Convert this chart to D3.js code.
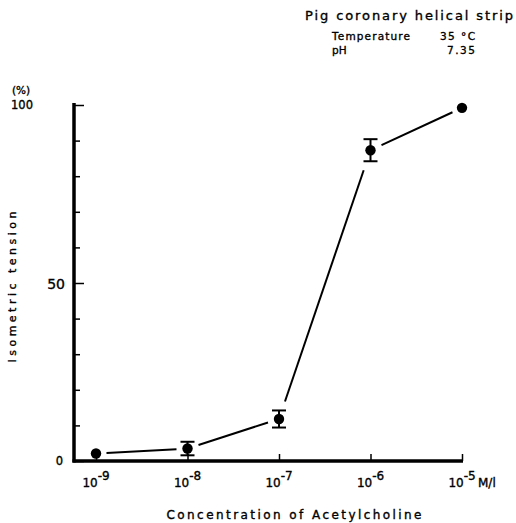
<!DOCTYPE html>
<html>
<head>
<meta charset="utf-8">
<script src="https://cdn.jsdelivr.net/npm/d3@7/dist/d3.min.js"></script>
<style>
  body { margin: 0; background: #fff; }
  svg { display: block; font-family: "DejaVu Sans", sans-serif; fill: #000; }
  svg text { stroke: #000; stroke-width: 0.35; }
</style>
</head>
<body>
<svg id="chart" width="516" height="523"></svg>
<script>
// data
const concentrations = [1e-9, 1e-8, 1e-7, 1e-6, 1e-5];
const tensionMean = [2.1, 3.5, 11.8, 87.3, 99.2];
const tensionErr = [0, 1.9, 2.4, 3.1, 0];
const xTickExponents = [-9, -8, -7, -6, -5];
const yTicks = [0, 10, 20, 30, 40, 50, 60, 70, 80, 90, 100];
const yTickLabels = [0, 50, 100];

const svg = d3.select('#chart');

const x = d3.scaleLog()
  .domain([1e-9, 1e-5])
  .range([96, 462]);
const y = d3.scaleLinear()
  .domain([0, 100])
  .range([461, 105]);

const axisX0 = 74;

// header
svg.append('text')
  .attr('x', 305).attr('y', 20)
  .attr('font-size', 13)
  .attr('textLength', 208).attr('lengthAdjust', 'spacing')
  .text('Pig coronary helical strip');

const info = svg.append('g').attr('font-size', 10.5);
info.append('text').attr('x', 332).attr('y', 40)
  .attr('textLength', 78).attr('lengthAdjust', 'spacing').text('Temperature');
info.append('text').attr('x', 440).attr('y', 40).text('35 °C')
  .attr('textLength', 35).attr('lengthAdjust', 'spacing');
info.append('text').attr('x', 332).attr('y', 54).text('pH');
info.append('text').attr('x', 447).attr('y', 54).text('7.35')
  .attr('textLength', 28).attr('lengthAdjust', 'spacing');

// y axis
const yAxis = d3.axisLeft(y)
  .tickValues(yTicks)
  .tickSize(-4)
  .tickFormat('');
const gy = svg.append('g')
  .attr('transform', `translate(${axisX0},0)`)
  .call(yAxis);
gy.select('.domain').remove();
gy.selectAll('.tick line')
  .attr('stroke', '#000')
  .attr('stroke-width', 1.5)
  .attr('x2', d => d % 50 === 0 ? 10 : 6);
svg.append('line')
  .attr('x1', axisX0).attr('x2', axisX0)
  .attr('y1', y(100) - 2).attr('y2', y(0) + 1.5)
  .attr('stroke', '#000').attr('stroke-width', 3.5);

svg.append('g')
  .selectAll('text')
  .data(yTickLabels)
  .join('text')
    .attr('x', d => d === 100 ? 33 : (d === 50 ? 65 : 63))
    .attr('y', d => y(d) + (d === 50 ? 6 : 4))
    .attr('text-anchor', 'end')
    .attr('font-size', d => d === 50 ? 14 : 11.5)
    .text(d => d);
svg.append('text')
  .attr('x', 12).attr('y', 94)
  .attr('font-size', 10.5)
  .text('(%)');

svg.append('text')
  .attr('transform', 'translate(16,287) rotate(-90)')
  .attr('text-anchor', 'middle')
  .attr('font-size', 11)
  .attr('textLength', 151).attr('lengthAdjust', 'spacing')
  .text('Isometric tension');

// x axis
const xAxis = d3.axisBottom(x)
  .tickValues(concentrations)
  .tickSize(-7)
  .tickFormat('');
const gx = svg.append('g')
  .attr('transform', `translate(0,${y(0)})`)
  .call(xAxis);
gx.select('.domain').remove();
gx.selectAll('.tick line')
  .attr('stroke', '#000')
  .attr('stroke-width', 1.5);
svg.append('line')
  .attr('x1', axisX0 - 1.5).attr('x2', x(1e-5) + 1)
  .attr('y1', y(0)).attr('y2', y(0))
  .attr('stroke', '#000').attr('stroke-width', 3.5);

const xLabels = svg.append('g')
  .selectAll('text')
  .data(concentrations)
  .join('text')
    .attr('x', d => x(d))
    .attr('y', 487)
    .attr('text-anchor', 'middle')
    .attr('font-size', 12);
xLabels.append('tspan').text('10');
xLabels.append('tspan')
  .attr('dy', -7)
  .attr('font-size', 12)
  .text((d, i) => '-' + Math.abs(xTickExponents[i]));
svg.append('text')
  .attr('x', 478).attr('y', 487)
  .attr('font-size', 12)
  .text('M/l');

svg.append('text')
  .attr('x', 294).attr('y', 519)
  .attr('text-anchor', 'middle')
  .attr('font-size', 12)
  .attr('textLength', 255).attr('lengthAdjust', 'spacing')
  .text('Concentration of Acetylcholine');

// points
const pts = concentrations.map((c, i) => ({
  cx: x(c),
  cy: y(tensionMean[i]),
  errPx: y(0) - y(tensionErr[i])
}));

// connecting segments, clipped so they stop short of the markers / error bars
function trim(p, ux, uy) {
  const circle = 10.5;
  if (p.errPx === 0) return circle;
  const hw = 11, hh = p.errPx + 9;
  const tx = Math.abs(ux) > 1e-6 ? hw / Math.abs(ux) : Infinity;
  const ty = Math.abs(uy) > 1e-6 ? hh / Math.abs(uy) : Infinity;
  return Math.max(circle, Math.min(tx, ty));
}
const segs = d3.pairs(pts).map(([a, b]) => {
  const dx = b.cx - a.cx, dy = b.cy - a.cy;
  const len = Math.hypot(dx, dy);
  const ux = dx / len, uy = dy / len;
  const ta = trim(a, ux, uy), tb = trim(b, ux, uy);
  return [a.cx + ux * ta, a.cy + uy * ta, b.cx - ux * tb, b.cy - uy * tb];
});
svg.append('g')
  .selectAll('line')
  .data(segs)
  .join('line')
    .attr('x1', d => d[0]).attr('y1', d => d[1])
    .attr('x2', d => d[2]).attr('y2', d => d[3])
    .attr('stroke', '#000')
    .attr('stroke-width', 2);

// error bars
const eb = svg.append('g')
  .selectAll('g')
  .data(pts.filter(p => p.errPx > 0))
  .join('g')
    .attr('stroke', '#000')
    .attr('stroke-width', 2);
eb.append('line')
  .attr('x1', d => d.cx).attr('x2', d => d.cx)
  .attr('y1', d => d.cy - d.errPx).attr('y2', d => d.cy + d.errPx);
eb.append('line')
  .attr('x1', d => d.cx - 7).attr('x2', d => d.cx + 7)
  .attr('y1', d => d.cy - d.errPx).attr('y2', d => d.cy - d.errPx);
eb.append('line')
  .attr('x1', d => d.cx - 7).attr('x2', d => d.cx + 7)
  .attr('y1', d => d.cy + d.errPx).attr('y2', d => d.cy + d.errPx);

svg.append('g')
  .selectAll('circle')
  .data(pts)
  .join('circle')
    .attr('cx', d => d.cx)
    .attr('cy', d => d.cy)
    .attr('r', 5.2)
    .attr('fill', '#000');
</script>
</body>
</html>
